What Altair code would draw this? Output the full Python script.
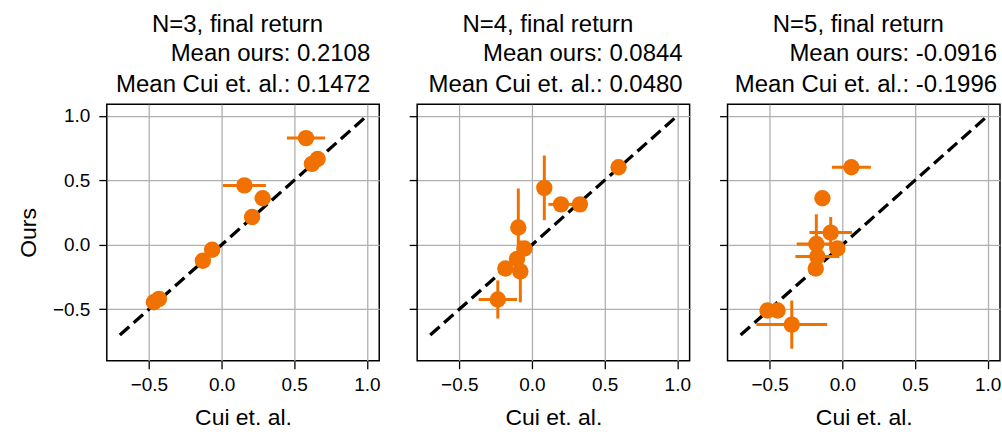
import altair as alt
import pandas as pd

# ---------------- data ----------------
panel_titles = ["N=3, final return", "N=4, final return", "N=5, final return"]
mean_ours = ["0.2108", "0.0844", "-0.0916"]
mean_cui = ["0.1472", "0.0480", "-0.1996"]

# N=3
cui_n3 = [0.581, 0.622, 0.661, 0.157, 0.283, 0.210, -0.065, -0.129, -0.466, -0.431]
ours_n3 = [0.827, 0.627, 0.665, 0.460, 0.360, 0.215, -0.039, -0.124, -0.446, -0.420]
cui_err_n3 = [0.132, 0.0, 0.0, 0.148, 0.0, 0.0, 0.0, 0.0, 0.0, 0.0]
ours_err_n3 = [0.0, 0.0, 0.0, 0.0, 0.0, 0.0, 0.0, 0.0, 0.0, 0.0]

# N=4
cui_n4 = [0.596, 0.085, 0.200, 0.330, -0.094, -0.052, -0.103, -0.183, -0.080, -0.235]
ours_n4 = [0.601, 0.441, 0.313, 0.313, 0.133, -0.029, -0.111, -0.184, -0.207, -0.425]
cui_err_n4 = [0.0, 0.0, 0.087, 0.0, 0.0, 0.0, 0.0, 0.0, 0.0, 0.132]
ours_err_n4 = [0.0, 0.251, 0.0, 0.0, 0.303, 0.0, 0.0, 0.0, 0.240, 0.148]

# N=5
cui_n5 = [0.062, -0.137, -0.080, -0.179, -0.034, -0.172, -0.183, -0.515, -0.446, -0.348]
ours_n5 = [0.601, 0.360, 0.094, 0.005, -0.029, -0.091, -0.184, -0.510, -0.510, -0.620]
cui_err_n5 = [0.134, 0.0, 0.146, 0.135, 0.0, 0.151, 0.0, 0.0, 0.0, 0.244]
ours_err_n5 = [0.0, 0.0, 0.121, 0.231, 0.0, 0.0, 0.0, 0.0, 0.0, 0.187]

diag_vals = [-0.7, 1.0]
tick_vals = [-0.5, 0.0, 0.5, 1.0]

panels = [
    (cui_n3, ours_n3, cui_err_n3, ours_err_n3),
    (cui_n4, ours_n4, cui_err_n4, ours_err_n4),
    (cui_n5, ours_n5, cui_err_n5, ours_err_n5),
]

# ---------------- style ----------------
ORANGE = "#f07100"
FONT = "Liberation Sans"
TITLE_SIZE = 24
W, H = 273, 257
x_domain = [-0.79, 1.085]
y_domain = [-0.90, 1.09]
title_right = [264, 266, 270]


def make_panel(i):
    cui, ours, cerr, oerr = panels[i]
    first = i == 0
    xs = alt.Scale(domain=x_domain, nice=False, zero=False)
    ys = alt.Scale(domain=y_domain, nice=False, zero=False)
    xaxis = alt.Axis(values=tick_vals, format=".1f", title="Cui et. al.")
    yaxis = alt.Axis(values=tick_vals, format=".1f", title="Ours" if first else None,
                     labels=first)

    df = pd.DataFrame({"cui": cui, "ours": ours, "cerr": cerr, "oerr": oerr})
    df["x0"] = df["cui"] - df["cerr"]
    df["x1"] = df["cui"] + df["cerr"]
    df["y0"] = df["ours"] - df["oerr"]
    df["y1"] = df["ours"] + df["oerr"]
    dfx = df[df["cerr"] > 0]
    dfy = df[df["oerr"] > 0]
    diag = pd.DataFrame({"v": diag_vals, "w": diag_vals})

    line = alt.Chart(diag).mark_line(color="black", strokeWidth=3.3,
                                     strokeDash=[12.5, 6], clip=True).encode(
        x=alt.X("v:Q", scale=xs, axis=xaxis),
        y=alt.Y("w:Q", scale=ys, axis=yaxis),
    )
    xerr = alt.Chart(dfx).mark_rule(color=ORANGE, strokeWidth=3).encode(
        x=alt.X("x0:Q", scale=xs, axis=xaxis),
        x2="x1:Q",
        y=alt.Y("ours:Q", scale=ys, axis=yaxis),
    )
    yerr = alt.Chart(dfy).mark_rule(color=ORANGE, strokeWidth=3).encode(
        x=alt.X("cui:Q", scale=xs, axis=xaxis),
        y=alt.Y("y0:Q", scale=ys, axis=yaxis),
        y2="y1:Q",
    )
    pts = alt.Chart(df).mark_circle(color=ORANGE, size=270, opacity=1).encode(
        x=alt.X("cui:Q", scale=xs, axis=xaxis),
        y=alt.Y("ours:Q", scale=ys, axis=yaxis),
    )
    t1 = alt.Chart(pd.DataFrame({"t": [panel_titles[i]]})).mark_text(
        font=FONT, fontSize=TITLE_SIZE, align="center", baseline="alphabetic", color="black"
    ).encode(x=alt.value(131), y=alt.value(-72), text="t:N")
    t2 = alt.Chart(pd.DataFrame({"t": ["Mean ours: " + mean_ours[i]]})).mark_text(
        font=FONT, fontSize=TITLE_SIZE, align="right", baseline="alphabetic", color="black"
    ).encode(x=alt.value(title_right[i]), y=alt.value(-43.5), text="t:N")
    t3 = alt.Chart(pd.DataFrame({"t": ["Mean Cui et. al.: " + mean_cui[i]]})).mark_text(
        font=FONT, fontSize=TITLE_SIZE, align="right", baseline="alphabetic", color="black"
    ).encode(x=alt.value(title_right[i]), y=alt.value(-12.5), text="t:N")

    layer = alt.layer(line, xerr, yerr, pts, t1, t2, t3).properties(width=W, height=H)
    return layer


chart = alt.hconcat(*[make_panel(i) for i in range(3)], spacing=38, bounds="flush").properties(
    padding={"left": 16, "top": 12, "right": 0, "bottom": 0}
).configure_view(
    stroke="black", strokeWidth=1.5
).configure_axis(
    labelFont=FONT, titleFont=FONT, labelFontSize=19, titleFontSize=23,
    titleFontWeight="normal", labelColor="black", titleColor="black",
    tickColor="black", tickSize=8, tickWidth=1.3, domain=False,
    gridColor="#b0b0b0", gridWidth=1.3, gridOpacity=1,
    labelPadding=7, titlePadding=12,
).configure_axisY(labelPadding=9, titlePadding=12)

chart.save("out.html", embed_options={"renderer": "svg", "actions": False})
